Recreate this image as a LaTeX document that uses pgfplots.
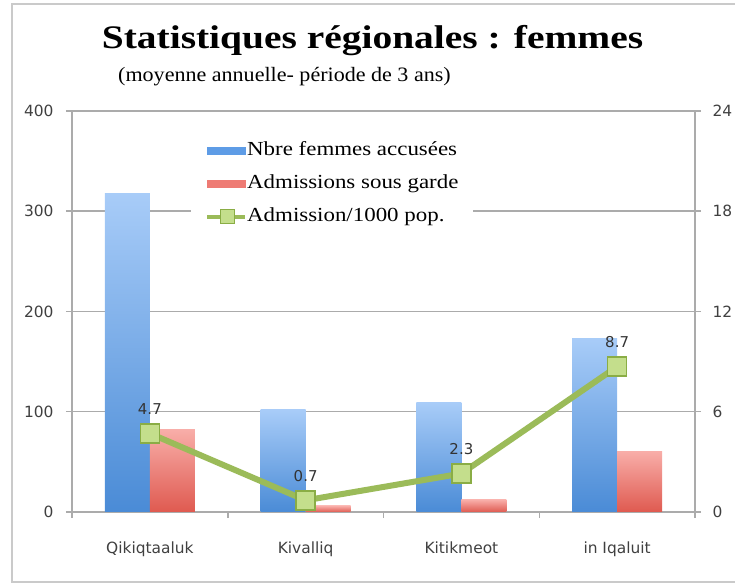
\documentclass[border=0pt]{standalone}
\usepackage{pgfplots}
\pgfplotsset{compat=1.18}
\usepackage{fontspec}
\newfontfamily\titlefont[FakeStretch=1.2]{Liberation Serif}
\newfontfamily\subfont[FakeStretch=1.08]{Liberation Serif}
\newfontfamily\legfont[FakeStretch=1.15]{Liberation Serif}
\newfontfamily\sans{DejaVu Sans}
\definecolor{barblueT}{HTML}{A8CCF8}
\definecolor{barblueB}{HTML}{4A8BD6}
\definecolor{barredT}{HTML}{F8ADA8}
\definecolor{barredB}{HTML}{DF5A50}
\definecolor{legblue}{HTML}{5E9CE6}
\definecolor{legred}{HTML}{EE7B74}
\definecolor{lgreen}{HTML}{9BBB59}
\definecolor{lgreenD}{HTML}{8AAD45}
\definecolor{mfill}{HTML}{C4DE8C}
\definecolor{gridgray}{HTML}{ABABAB}
\definecolor{framegray}{HTML}{CACACA}
\definecolor{ticktext}{HTML}{404040}
\pgfplotsset{
  bluebar/.style={ybar, bar width=45bp, bar shift=-22.5bp, draw=none, top color=barblueT, bottom color=barblueB},
  redbar/.style={ybar, bar width=45bp, bar shift=22.5bp, draw=none, top color=barredT, bottom color=barredB},
}
\begin{document}
\begin{tikzpicture}
\begin{axis}[
  at={(0,0)}, anchor=south west,
  scale only axis, width=623bp, height=401bp,
  xmin=-0.5, xmax=3.5, ymin=0, ymax=400,
  xtick={0,1,2,3},
  xticklabels={Qikiqtaaluk,Kivalliq,Kitikmeot,in Iqaluit},
  major x tick style={draw=none},
  minor xtick={-0.5,0.5,1.5,2.5,3.5},
  ytick={0,100,200,300,400},
  ymajorgrids, grid style={gridgray, line width=1.5bp},
  axis line style={gridgray, line width=1.5bp},
  tick style={gridgray, line width=1.5bp},
  tick align=outside, xtick pos=bottom, ytick pos=left,
  major tick length=6bp, minor tick length=6bp,
  /pgf/number format/assume math mode=true,
  yticklabel style={font=\sans\fontsize{15.5}{15.5}\selectfont, text=ticktext, xshift=-9bp},
  xticklabel style={font=\sans\fontsize{15.5}{15.5}\selectfont, text=ticktext, yshift=-20bp},
]
% Nbre femmes accusées
\addplot[bluebar] coordinates {(0,318)};
\addplot[bluebar] coordinates {(1,102)};
\addplot[bluebar] coordinates {(2,109)};
\addplot[bluebar] coordinates {(3,173)};
% Admissions sous garde
\addplot[redbar] coordinates {(0,82)};
\addplot[redbar] coordinates {(1,6)};
\addplot[redbar] coordinates {(2,12)};
\addplot[redbar] coordinates {(3,60)};
\end{axis}
\begin{axis}[
  at={(0,0)}, anchor=south west,
  scale only axis, width=623bp, height=401bp,
  xmin=-0.5, xmax=3.5, ymin=0, ymax=24,
  axis y line*=right, axis x line=none,
  ytick={0,6,12,18,24},
  y axis line style={gridgray, line width=1.5bp, -},
  tick style={gridgray, line width=1.5bp},
  tick align=outside, major tick length=6bp,
  /pgf/number format/assume math mode=true,
  yticklabel style={font=\sans\fontsize{15.5}{15.5}\selectfont, text=ticktext, xshift=8bp},
  legend style={at={(0.191,0.935)}, anchor=north west, draw=none, fill=white,
    inner xsep=14bp, inner ysep=4bp, row sep=14bp,
    font=\legfont\fontsize{20}{20}\selectfont,
    nodes={text height=14bp, text depth=5bp, inner ysep=0bp, inner xsep=0bp}},
  legend cell align=left,
]
\addlegendimage{legend image code/.code={\fill[legblue] (0bp,-3.5bp) rectangle (38bp,3.5bp);}}
\addlegendentry{Nbre femmes accusées}
\addlegendimage{legend image code/.code={\fill[legred] (0bp,-3.5bp) rectangle (38bp,3.5bp);}}
\addlegendentry{Admissions sous garde}
\addplot[lgreen, line width=6bp, mark=square*, mark size=9.5bp,
  mark options={fill=mfill, draw=lgreenD, line width=1.5bp},
  nodes near coords, point meta=explicit symbolic,
  every node near coord/.append style={font=\sans\fontsize{15}{15}\selectfont, text=black!80, yshift=15bp},
  legend image code/.code={\draw[lgreen, line width=4bp] (0bp,0bp) -- (38bp,0bp);
    \draw[draw=lgreenD, fill=mfill, line width=1bp] (13bp,-7bp) rectangle (27bp,7bp);}]
  coordinates {(0,4.7)[4.7] (1,0.7)[0.7] (2,2.3)[2.3] (3,8.7)[8.7]};
\addlegendentry{Admission/1000 pop.}
\end{axis}
\node[anchor=base, inner sep=0pt] at (300.5bp,463bp) {\titlefont\bfseries\fontsize{33}{33}\selectfont Statistiques régionales : femmes};
\node[anchor=base west, inner sep=0pt] at (46bp,430bp) {\subfont\fontsize{20.5}{20.5}\selectfont (moyenne annuelle- période de 3 ans)};
\draw[framegray, line width=2bp] (680bp,508bp) -- (-60bp,508bp) -- (-60bp,-70bp) -- (680bp,-70bp);
\pgfresetboundingbox
\useasboundingbox (-72bp,-72bp) rectangle (663bp,512bp);
\end{tikzpicture}
\end{document}
